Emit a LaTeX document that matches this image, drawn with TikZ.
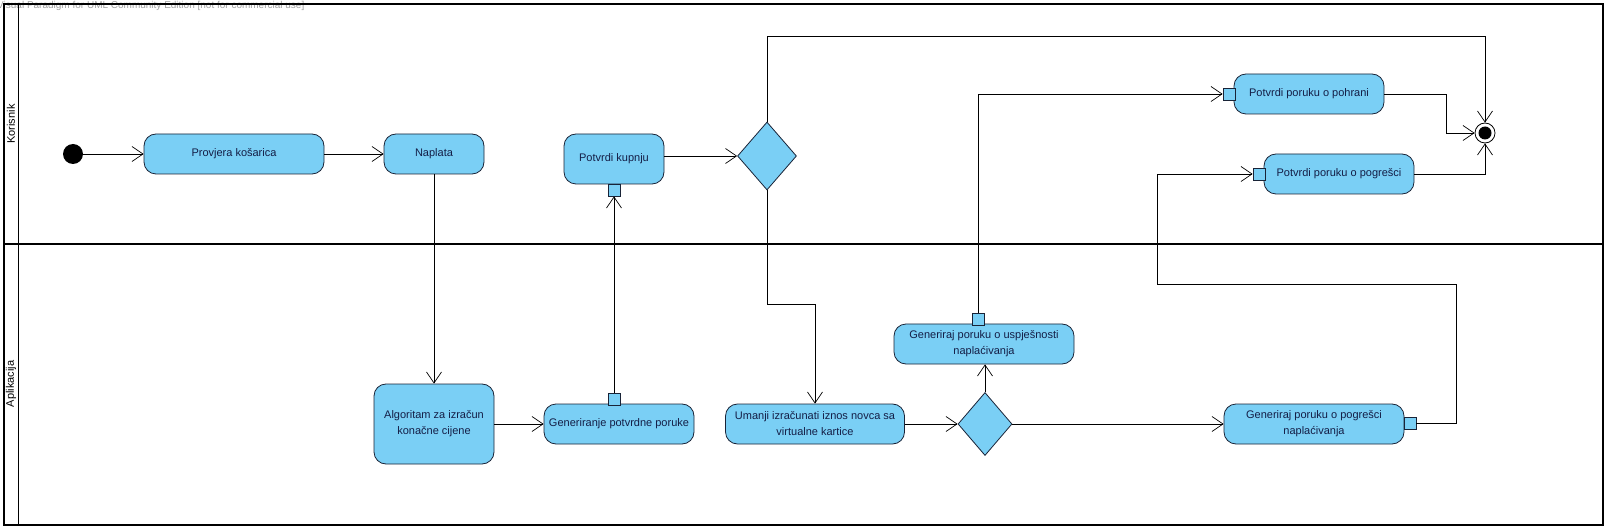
\documentclass[tikz,border=0pt]{standalone}
\usepackage{fontspec}
\setmainfont{Liberation Sans}
\usetikzlibrary{arrows.meta, positioning, shapes.geometric, calc}
\definecolor{actfill}{RGB}{122,207,245}
\definecolor{actline}{RGB}{25,35,55}
\definecolor{acttext}{RGB}{20,30,70}

\begin{document}
\begin{tikzpicture}[x=1pt, y=-1pt,
  act/.style={rectangle, draw=actline, fill=actfill, rounded corners=12pt,
    line width=0.8pt, align=center, inner sep=2pt, text=acttext,
    font=\fontsize{11}{16}\selectfont},
  pinbox/.style={rectangle, draw=actline, fill=actfill, line width=0.8pt,
    minimum size=12pt, inner sep=0pt},
  decision/.style={diamond, draw=actline, fill=actfill, line width=0.8pt, inner sep=0pt},
  arr/.style={-{Straight Barb[length=11pt, width=15pt]}, line width=0.7pt},
  lane/.style={line width=1.6pt},
  lanelabel/.style={rotate=90, font=\fontsize{11}{13}\selectfont}
]
\useasboundingbox (0,0) rectangle (1609,529);
\node[anchor=west, inner sep=0pt, text=gray!75, font=\fontsize{10}{12}\selectfont] (wm) at (-3,6)
  {Visual Paradigm for UML Community Edition [not for commercial use]};

\draw[lane] (4,4) rectangle (1603,525);
\draw[lane] (18.5,4) -- (18.5,525);
\draw[lane] (4,244) -- (1603,244);
\node[lanelabel] (korisnik) at (11,124) {Korisnik};
\node[lanelabel] (aplikacija) at (11,384) {Aplikacija};

\node[circle, fill=black, minimum size=20pt, inner sep=0pt] (init) at (73,154) {};
\node[act, minimum width=180pt, minimum height=40pt] (prov) at (234,154) {Provjera košarica};
\node[act, minimum width=100pt, minimum height=40pt] (napl) at (434,154) {Naplata};
\node[act, minimum width=100pt, minimum height=50pt] (kup) at (614,159) {Potvrdi kupnju};
\node[pinbox] (pk) at (614,190) {};
\node[decision, minimum width=59pt, minimum height=68pt] (dec1) at (767,156) {};
\node[act, minimum width=150pt, minimum height=40pt] (poh) at (1309,94) {Potvrdi poruku o pohrani};
\node[pinbox] (ppoh) at (1229,94) {};
\node[act, minimum width=150pt, minimum height=40pt] (pog) at (1339,174) {Potvrdi poruku o pogrešci};
\node[pinbox] (ppog) at (1259,174) {};
\node[circle, draw=black, fill=white, line width=0.8pt, minimum size=20pt, inner sep=0pt] (fin) at (1485,133) {};
\node[circle, fill=black, minimum size=13pt, inner sep=0pt] (finc) at (fin) {};

\node[act, minimum width=120pt, minimum height=80pt] (alg) at (434,424) {Algoritam za izračun\\konačne cijene};
\node[act, minimum width=150pt, minimum height=40pt] (gpot) at (619,424) {Generiranje potvrdne poruke};
\node[pinbox] (pgp) at (614,399) {};
\node[act, minimum width=179pt, minimum height=40pt] (uman) at (815,424) {Umanji izračunati iznos novca sa\\virtualne kartice};
\node[decision, minimum width=54pt, minimum height=63pt] (dec2) at (985,424) {};
\node[act, minimum width=180pt, minimum height=40pt] (usp) at (984,344) {Generiraj poruku o uspješnosti\\naplaćivanja};
\node[pinbox] (pu) at (978,319) {};
\node[act, minimum width=180pt, minimum height=40pt] (gpog) at (1314,424) {Generiraj poruku o pogrešci\\naplaćivanja};
\node[pinbox] (pgpog) at (1410,423) {};
\coordinate (c1) at (1456,284);
\coordinate (c2) at (1157,284);

\draw[arr] (init) -- (prov);
\draw[arr] (prov) -- (napl);
\draw[arr] (napl.south) -- (napl.south |- alg.north);
\draw[arr] (alg) -- (gpot);
\draw[arr] (pgp.north) -- (pk.south);
\draw[arr] (kup.east |- dec1) -- (dec1.west);
\draw[arr] (dec1.north) -- ++(0,-85) -| (fin.north);
\draw[arr] (dec1.south) -- ++(0,114) -| (uman.north);
\draw[arr] (uman) -- (dec2);
\draw[arr] (dec2.north) -- (dec2.north |- usp.south);
\draw[arr] (pu.north) |- (ppoh.west);
\draw[arr] (poh.east) -- ++(62,0) |- (fin.west);
\draw[arr] (dec2.east) -- (gpog.west);
\draw[arr] (pgpog.east) -| (c1) -- (c2) |- (ppog.west);
\draw[arr] (pog.east) -| (fin.south);
\end{tikzpicture}
\end{document}
